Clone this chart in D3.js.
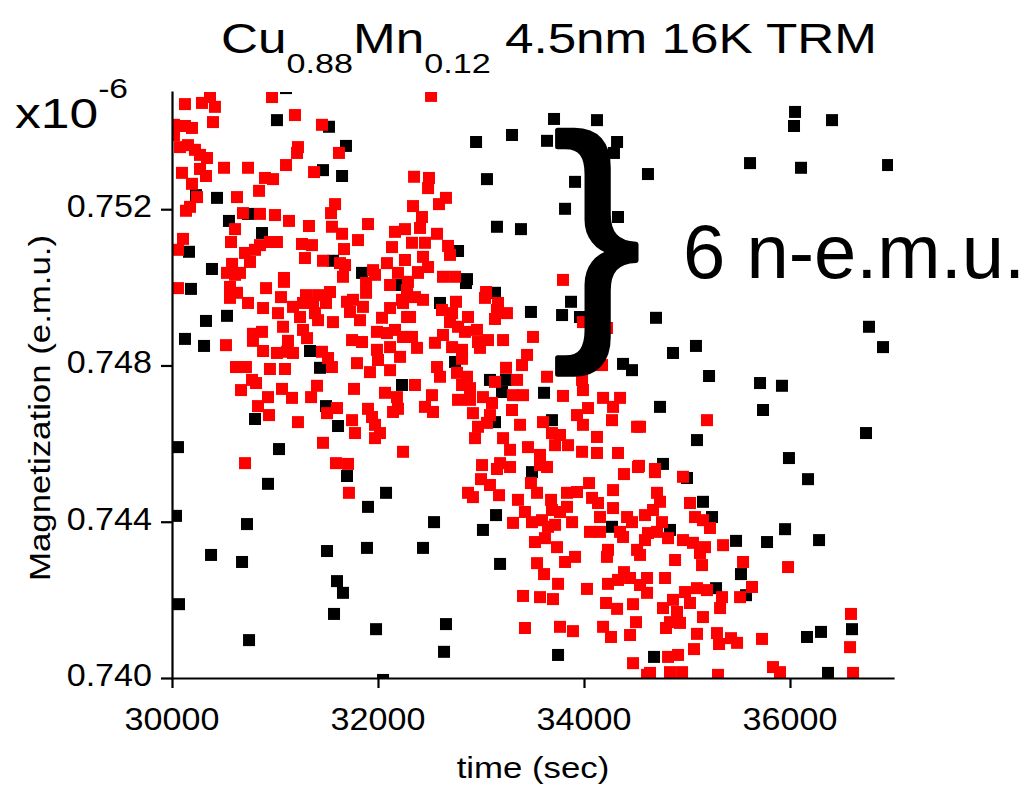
<!DOCTYPE html>
<html>
<head>
<meta charset="utf-8">
<script src="https://cdn.jsdelivr.net/npm/d3@7"></script>
<style>
  body { margin: 0; background: #fff; }
  text { font-family: "Liberation Sans", Arial, sans-serif; fill: #000; }
</style>
</head>
<body>
<svg id="chart" width="1029" height="789"></svg>
<script>
// time (sec), magnetization (x1e-6 e.m.u.)
const redPts = [
  [30126,0.75469],[30291,0.75472],[30369,0.75487],[30417,0.75462],[30971,0.75487],[30398,0.75423],[31194,0.75441],[31456,0.75416],[30019,0.75416],[30126,0.75413],[30194,0.75408],[30019,0.75390],[30078,0.75359],[30155,0.75364],[30223,0.75352],[30272,0.75339],[30340,0.75331],[31223,0.75359],[31214,0.75344],[31621,0.75344],[31107,0.75313],[31379,0.75295],[30097,0.75293],[30272,0.75303],[30330,0.75285],[30505,0.75306],[30738,0.75306],[30903,0.75280],[30981,0.75277],[30845,0.75247],[30194,0.75265],[30243,0.75231],[30631,0.75231],[30175,0.75206],[30136,0.75196],[30689,0.75190],[30854,0.75188],[31000,0.75185],[31136,0.75170],[31583,0.75213],[31544,0.75190],[31330,0.75157],[31553,0.75155],[31651,0.75137],[31903,0.75162],[30612,0.75149],[30107,0.75124],[30058,0.75096],[30573,0.75116],[30854,0.75108],[30951,0.75116],[31019,0.75116],[31262,0.75111],[31359,0.75108],[31806,0.75121],[31670,0.75098],[32165,0.75142],[32262,0.75149],[32136,0.75103],[30709,0.75088],[30806,0.75096],[31291,0.75075],[31466,0.75068],[31631,0.75062],[31680,0.75057],[30757,0.75065],[30583,0.75060],[30534,0.75037],[30660,0.75037],[31087,0.75024],[31952,0.75044],[32087,0.75062],[32194,0.75037],[32262,0.75070],
  [32515,0.75490],[32350,0.75283],[32495,0.75280],[32486,0.75254],[32660,0.75229],[32592,0.75213],[32340,0.75208],[32427,0.75180],[32408,0.75152],[32573,0.75137],[32330,0.75114],[32456,0.75114],[32680,0.75106],[32437,0.75078],[32486,0.75052],[32699,0.75083],[32388,0.75039],[32631,0.75027],[32748,0.75027],[33796,0.75019],
  [30058,0.74998],[30612,0.75032],[30563,0.75001],[30631,0.74986],[30563,0.74973],[30738,0.74960],[30913,0.74998],[31087,0.75014],[31058,0.74975],[30884,0.74947],[31029,0.74934],[31175,0.74950],[31301,0.74980],[31418,0.74980],[31534,0.74988],[31272,0.74960],[31369,0.74960],[31495,0.74960],[31243,0.74924],[31388,0.74934],[31418,0.74916],[31563,0.74911],[31699,0.74963],[31757,0.74968],[31884,0.74986],[31884,0.75011],[31971,0.75032],[32117,0.75006],[32233,0.74968],[32282,0.74993],[31660,0.75027],[31728,0.74937],[31854,0.74950],[31825,0.74916],[32117,0.74947],[32039,0.74922],[32282,0.74924],[31078,0.74899],[31272,0.74891],[31311,0.74870],[30786,0.74881],[30874,0.74886],[30786,0.74863],[30524,0.74852],[31126,0.74863],[30884,0.74837],[31019,0.74832],[31117,0.74835],[31175,0.74832],[31456,0.74835],[31515,0.74819],[31553,0.74796],[31748,0.74865],[31845,0.74860],[31990,0.74886],[32087,0.74883],[32165,0.74891],[31990,0.74840],[32117,0.74847],[32214,0.74822],[32282,0.74873],[30621,0.74796],[30718,0.74796],[30951,0.74791],[31097,0.74791],[31796,0.74806],[32000,0.74814],[31922,0.74783],[32117,0.74788],[30777,0.74763],[30816,0.74755],[30670,0.74737],[31068,0.74740],[31165,0.74717],[31408,0.74748],[31350,0.74719],[30932,0.74719],[30835,0.74696],[31767,0.74740],[32068,0.74730],[32184,0.74719],[30942,0.74673],[31223,0.74655],[31505,0.74678],[31602,0.74691],[31748,0.74660],[31777,0.74627],[31903,0.74689],[31942,0.74668],[31971,0.74648],[32019,0.74627],[31971,0.74614],[32146,0.74681],[32194,0.74689],[31466,0.74602],[32243,0.74579],[30709,0.74550],[31592,0.74550],[31709,0.74548],
  [32291,0.75014],[32388,0.75037],[32282,0.74986],[32359,0.74975],[32437,0.74968],[32243,0.74960],[32311,0.74924],[32621,0.74942],[32719,0.74934],[32757,0.74963],[32874,0.74924],[32699,0.74911],[32777,0.74899],[32845,0.74886],[32961,0.74891],[33049,0.74988],[33039,0.74973],[33165,0.74960],[33155,0.74942],[33252,0.74934],[33136,0.74919],[33505,0.74873],[33990,0.74911],[34223,0.74896],[32243,0.74873],[32330,0.74873],[32379,0.74845],[32553,0.74858],[32631,0.74878],[32719,0.74847],[32816,0.74840],[32816,0.74817],[32971,0.74860],[32990,0.74845],[33068,0.74865],[33214,0.74865],[32573,0.74796],[32602,0.74771],[32767,0.74781],[32864,0.74771],[32816,0.74750],[32893,0.74742],[33447,0.74827],[33398,0.74801],[33243,0.74794],[33136,0.74758],[33350,0.74763],[33311,0.74724],[33408,0.74724],[33641,0.74771],[33796,0.74722],[33981,0.74763],[33990,0.74737],[34175,0.74801],[32359,0.74750],[32524,0.74724],[32456,0.74694],[32534,0.74681],[32777,0.74712],[32893,0.74712],[33019,0.74719],[33107,0.74704],[32922,0.74678],[33087,0.74673],[33058,0.74653],[32971,0.74643],[32942,0.74614],[33301,0.74686],[33379,0.74648],[33214,0.74614],[33282,0.74584],[33456,0.74591],[33573,0.74571],[33602,0.74655],[33689,0.74627],[33767,0.74622],[33719,0.74596],[33845,0.74596],[33932,0.74673],[34039,0.74691],[33990,0.74648],[33981,0.74579],[34126,0.74617],[34126,0.74576],[34185,0.74717],[34282,0.74694],[34350,0.74717],[34272,0.74660],[34330,0.74576],[34515,0.74643],[34534,0.74543],[33010,0.74545],[33185,0.74550],[33282,0.74540],[33641,0.74540],
  [35194,0.74660],[34544,0.74643],[34689,0.74535],[31718,0.74474],
  [33155,0.74535],[33573,0.74545],[33000,0.74509],[33087,0.74494],[33175,0.74468],[32874,0.74474],[32922,0.74463],[33485,0.74499],[33544,0.74474],[33359,0.74456],[33680,0.74456],[33835,0.74474],[33932,0.74476],[34049,0.74499],[34078,0.74461],[34136,0.74448],[33835,0.74438],[33689,0.74430],[33427,0.74425],[33311,0.74397],[33495,0.74399],[33592,0.74404],[33651,0.74387],[33719,0.74392],[33884,0.74399],[33767,0.74425],[33524,0.74348],[33621,0.74358],[33738,0.74335],[34155,0.74412],[34282,0.74481],[34388,0.74522],[34524,0.74540],[34282,0.74435],[34418,0.74412],[34466,0.74399],[34592,0.74417],[34058,0.74374],[34155,0.74374],[34350,0.74374],[34379,0.74361],[34592,0.74353],[34233,0.74328],[34223,0.74310],[34515,0.74328],[34544,0.74315],[33544,0.74294],[33612,0.74266],[33816,0.74297],[33913,0.74310],[33748,0.74241],[33408,0.74210],[33573,0.74207],[33699,0.74202],[34029,0.74228],[34233,0.74241],[34330,0.74251],[34388,0.74271],[34447,0.74256],[34544,0.74238],[34612,0.74256],[34612,0.74218],[34214,0.74192],[34321,0.74177],[34476,0.74189],[34505,0.74143],[33427,0.74128],[33767,0.74131],[33893,0.74120],[34185,0.74131],[34262,0.74105],[34447,0.74110],[34476,0.74038],[34612,0.74008],
  [34689,0.74527],[34961,0.74515],[34709,0.74474],[34738,0.74451],[34670,0.74430],[35029,0.74448],[35078,0.74412],[35155,0.74404],[35223,0.74384],[34757,0.74399],[34621,0.74371],[34709,0.74374],[34816,0.74358],[34961,0.74353],[35058,0.74346],[35175,0.74335],[35126,0.74320],[35350,0.74340],[34884,0.74302],[35146,0.74289],[35544,0.74297],[35981,0.74284],[34787,0.74256],[34981,0.74220],[35097,0.74230],[35194,0.74225],[35340,0.74207],[35321,0.74179],[35515,0.74207],[35631,0.74233],[34864,0.74200],[35029,0.74192],[34767,0.74179],[34903,0.74169],[34835,0.74143],[34932,0.74141],[34796,0.74128],[35155,0.74156],[35097,0.74113],[35291,0.74115],[35311,0.74087],[35427,0.74102],[35486,0.74090],[35728,0.74100],[35068,0.74074],[34816,0.74054],[34913,0.74059],[34641,0.74013],[34835,0.74015],[34952,0.74015],[35301,0.74008],[35835,0.74028],[35903,0.74015],[36592,0.74164],[36583,0.74079],[36612,0.74013]
];

const blackPts = [
  [31107,0.75510],[31019,0.75428],[31524,0.75411],[31689,0.75362],[31466,0.75300],[31651,0.75285],[30437,0.75229],[30233,0.75236],[30553,0.75170],[30738,0.75188],[30874,0.75139],[30165,0.75091],[30388,0.75047],[31563,0.75068],[31845,0.75037],
  [33709,0.75431],[34126,0.75428],[33301,0.75390],[32952,0.75372],[33641,0.75375],[34321,0.75372],[34291,0.75344],[33058,0.75277],[33913,0.75270],[34621,0.75290],[33816,0.75201],[34330,0.75180],[33155,0.75155],[33388,0.75149],[32777,0.75093],[32864,0.75021],
  [36049,0.75449],[36039,0.75413],[36408,0.75428],[35612,0.75318],[36107,0.75306],[36952,0.75313],
  [30184,0.74996],[30330,0.74914],[30534,0.74927],[30126,0.74868],[30311,0.74850],[31340,0.74837],[31437,0.74794],[32233,0.74750],[31495,0.74696],[30806,0.74663],[31612,0.74645],[30058,0.74591],[31039,0.74586],[32194,0.75006],
  [32854,0.75011],[33136,0.74986],[32602,0.74960],[33485,0.74937],[33874,0.74963],[33787,0.74929],[33961,0.74924],[34379,0.74804],[34466,0.74788],[32748,0.74809],[33087,0.74763],[33243,0.74763],[33204,0.74732],[33612,0.74730],[33136,0.74655],[33689,0.74660],
  [34699,0.74922],[34864,0.74832],[35087,0.74850],[35214,0.74773],[34738,0.74694],[35097,0.74609],[34767,0.74548],[35709,0.74755],[35922,0.74748],[35738,0.74686],[35990,0.74563],[36767,0.74899],[36903,0.74847],[36738,0.74627],
  [30932,0.74497],[31699,0.74517],[31903,0.74438],[32078,0.74474],[30039,0.74415],[30728,0.74394],[30379,0.74315],[30680,0.74297],[31505,0.74325],[31893,0.74333],[31602,0.74248],[31660,0.74218],[31573,0.74164],[30068,0.74189],[30748,0.74097],[31981,0.74125],[32049,0.73995],
  [32544,0.74399],[32437,0.74333],[33146,0.74417],[33019,0.74379],[33185,0.74292],[32660,0.74138],[32641,0.74067],[33748,0.74059],[33495,0.74527],[34272,0.74387],
  [35000,0.74512],[35155,0.74451],[35243,0.74412],[34835,0.74379],[35476,0.74351],[35777,0.74348],[35952,0.74381],[36282,0.74353],[36175,0.74509],[35524,0.74266],[35282,0.74230],[35573,0.74212],[34680,0.74054],[36165,0.74105],[36301,0.74118],[36602,0.74125],[36369,0.74013]
];

const xMajor = [30000, 32000, 34000, 36000];
const xMinor = [31000, 33000, 35000, 37000];
const yMajor = [0.740, 0.744, 0.748, 0.752];
const yMinor = [0.742, 0.746, 0.750, 0.754];

const svg = d3.select("#chart");
svg.append("rect").attr("width", 1029).attr("height", 789).attr("fill", "#fff");

const x = d3.scaleLinear().domain([30000, 37000]).range([172, 893]);
const y = d3.scaleLinear().domain([0.740, 0.755]).range([678, 92]);

// text helper, sx stretches glyphs along the baseline
function label(g, str, px, py, size, sx, anchor, rot) {
  return g.append("text")
    .attr("transform", `translate(${px},${py}) rotate(${rot || 0}) scale(${sx},1)`)
    .attr("text-anchor", anchor)
    .attr("font-size", size)
    .text(str);
}

// markers, clipped to plot area
svg.append("clipPath").attr("id", "clip")
  .append("rect").attr("x", 172).attr("y", 92).attr("width", 721).attr("height", 586);

const plot = svg.append("g").attr("clip-path", "url(#clip)");
const ms = 12;
plot.selectAll(".blk").data(blackPts).join("rect")
  .attr("class", "blk")
  .attr("x", d => x(d[0]) - ms / 2).attr("y", d => y(d[1]) - ms / 2)
  .attr("width", ms).attr("height", ms).attr("fill", "#000");
plot.selectAll(".red").data(redPts).join("rect")
  .attr("class", "red")
  .attr("x", d => x(d[0]) - ms / 2).attr("y", d => y(d[1]) - ms / 2)
  .attr("width", ms).attr("height", ms).attr("fill", "#ff0000");

// axes
const gx = svg.append("g").attr("transform", "translate(0,678)");
gx.call(d3.axisBottom(x).tickValues(xMinor).tickSize(7).tickSizeOuter(0).tickFormat(""));
gx.call(d3.axisBottom(x).tickValues(xMajor).tickSize(10).tickSizeOuter(0).tickFormat(""));
const gy = svg.append("g").attr("transform", "translate(172,0)");
gy.call(d3.axisLeft(y).tickValues(yMinor).tickSize(6).tickSizeOuter(0).tickFormat(""));
gy.call(d3.axisLeft(y).tickValues(yMajor).tickSize(11).tickSizeOuter(0).tickFormat(""));
svg.selectAll(".domain, .tick line").attr("stroke", "#000").attr("stroke-width", 2.2);
svg.selectAll(".domain").attr("stroke-linecap", "square");

xMajor.forEach(v => label(svg, d3.format("d")(v), x(v), 730, 31, 1.1, "middle"));
yMajor.forEach(v => label(svg, d3.format(".3f")(v), 152, y(v) + 8, 31, 1.1, "end"));

// axis titles
label(svg, "time (sec)", 533, 778, 29, 1.2, "middle");
label(svg, "Magnetization (e.m.u.)", 50, 408, 29, 1.2, "middle", -90);

// multiplier
const mult = label(svg, "x10", 15, 128, 43, 1.2, "start");
mult.append("tspan").attr("font-size", 28).attr("dy", -30).text("-6");

// title with subscripts
const title = label(svg, "Cu", 549, 53, 42, 1.22, "middle");
title.append("tspan").attr("font-size", 28).attr("dy", 20).text("0.88");
title.append("tspan").attr("font-size", 42).attr("dy", -20).text("Mn");
title.append("tspan").attr("font-size", 28).attr("dy", 20).text("0.12");
title.append("tspan").attr("font-size", 42).attr("dy", -20).text("\u00a04.5nm 16K TRM");

// annotation: heavy brace and its label
label(svg, "}", 597, 320, 262, 1.0, "middle")
  .attr("stroke", "#000").attr("stroke-width", 5).attr("stroke-linejoin", "round");
label(svg, "6 n-e.m.u.", 683, 278, 76, 1, "start");
</script>
</body>
</html>
